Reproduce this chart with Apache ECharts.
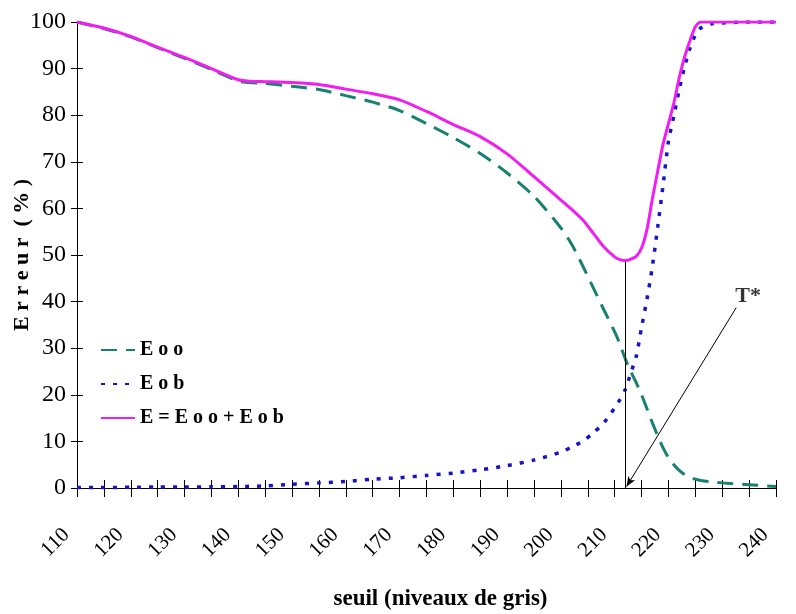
<!DOCTYPE html>
<html>
<head>
<meta charset="utf-8">
<script src="https://cdn.jsdelivr.net/npm/echarts@6/dist/echarts.min.js"></script>
<style>
  html, body { margin: 0; padding: 0; background: #ffffff; }
  #chart { width: 796px; height: 614px; }
</style>
</head>
<body>
<div id="chart"></div>
<script>
// Seuil (niveaux de gris)
const seuil = [110, 115, 120, 125, 130, 135, 140, 142, 145, 150, 155, 160, 165, 170, 175, 180, 185, 190, 195, 200,
  202, 204, 206, 208, 210, 211, 212, 213, 214, 215, 216, 217, 218, 219, 220, 221, 222, 223, 224, 225, 226, 228, 230, 235, 240];

// Erreur Eoo (%)
const eoo = [100, 98.6, 96.8, 94.5, 92.2, 89.8, 87.3, 87.0, 86.8, 86.2, 85.5, 84.2, 82.8, 81.0, 78.2, 75.2, 71.8, 67.6, 62.6, 55.8,
  52.3, 47.8, 43.0, 38.2, 33.5, 30.8, 27.6, 25.0, 22.6, 20.0, 17.0, 14.0, 11.2, 8.6, 6.5, 5.0, 3.8, 2.9, 2.3, 1.9, 1.6, 1.3, 1.1, 0.7, 0.3];

// Erreur Eob (%)
const eob = [0.1, 0.1, 0.15, 0.2, 0.2, 0.25, 0.3, 0.35, 0.45, 0.8, 1.1, 1.4, 1.9, 2.2, 2.7, 3.2, 3.9, 4.8, 6.0, 7.7,
  8.8, 10.0, 11.8, 14.0, 17.2, 19.0, 21.2, 24.7, 28.2, 34.5, 40.5, 47.5, 56.0, 65.0, 74.4, 79.8, 85.5, 90.4, 94.4, 97.2, 98.7, 99.6, 99.8, 100, 100];

// Erreur totale E = Eoo + Eob (%)
const eTotal = [100, 98.7, 96.9, 94.6, 92.4, 90.0, 87.6, 87.3, 87.2, 87.0, 86.6, 85.6, 84.6, 83.3, 80.8, 78.0, 75.4, 71.7, 66.8, 61.8,
  59.8, 57.6, 54.7, 51.7, 49.6, 49.0, 48.8, 49.1, 49.7, 51.5, 55.5, 62.0, 68.0, 73.8, 78.2, 82.6, 88.0, 92.5, 96.0, 99.0, 100, 100, 100, 100, 100];

const seriesNames = ['E o o', 'E o b', 'E = E o o + E o b'];

// Optimal threshold T*: the grey level where the total error is smallest
let best = 0;
for (let i = 1; i < eTotal.length; i++) if (eTotal[i] < eTotal[best]) best = i;
const tStar = seuil[best];
const eMin = eTotal[best];

// Start of the pointer line drawn from the "T*" caption (axis units)
const pointerFrom = [232.6, 38.7];

const serif = '"Liberation Serif", "Times New Roman", serif';
const pts = (ys) => seuil.map((x, i) => [x, ys[i]]);

const chart = echarts.init(document.getElementById('chart'), null, { renderer: 'canvas' });

const xBase = {
  type: 'value', min: 110, max: 240, interval: 5, gridIndex: 0, position: 'bottom',
  splitLine: { show: false }
};
const yBase = {
  type: 'value', min: 0, max: 100, interval: 10, gridIndex: 0, position: 'left',
  splitLine: { show: false }
};

chart.setOption({
  animation: false,
  backgroundColor: '#ffffff',
  grid: { left: 77, right: 20, top: 22, bottom: 126, containLabel: false, outerBoundsMode: 'none' },
  xAxis: [
    Object.assign({}, xBase, {
      axisLine: { show: true, onZero: false, lineStyle: { color: '#000', width: 1 } },
      axisTick: { show: true, inside: false, length: 9, lineStyle: { color: '#000', width: 1 } },
      axisLabel: {
        rotate: 45, margin: 33, padding: [0, 15, 0, 0],
        fontFamily: serif, fontSize: 21, color: '#000',
        formatter: (v) => (v % 10 === 0 ? String(v) : '')
      },
      name: 'seuil (niveaux de gris)', nameLocation: 'middle', nameGap: 100, nameMoveOverlap: false,
      nameTextStyle: { fontFamily: serif, fontSize: 23, fontWeight: 'bold', color: '#000', padding: [0, 0, 0, 28] }
    }),
    Object.assign({}, xBase, {
      axisLine: { show: false },
      axisTick: { show: true, inside: true, length: 8, lineStyle: { color: '#000', width: 1 } },
      axisLabel: { show: false }
    })
  ],
  yAxis: [
    Object.assign({}, yBase, {
      axisLine: { show: true, onZero: false, lineStyle: { color: '#000', width: 1 } },
      axisTick: { show: true, inside: false, length: 6, lineStyle: { color: '#000', width: 1 } },
      axisLabel: { margin: 11, fontFamily: serif, fontSize: 24, color: '#000' },
      name: 'E r r e u r  ( % )', nameLocation: 'middle', nameGap: 44, nameMoveOverlap: false,
      nameTextStyle: { fontFamily: serif, fontSize: 22, fontWeight: 'bold', color: '#000' }
    }),
    Object.assign({}, yBase, {
      axisLine: { show: false },
      axisTick: { show: true, inside: true, length: 6, lineStyle: { color: '#000', width: 1 } },
      axisLabel: { show: false }
    })
  ],
  legend: {
    data: seriesNames,
    orient: 'vertical', left: 95, top: 335, itemGap: 14,
    itemWidth: 34, itemHeight: 14,
    itemStyle: { opacity: 0 },
    textStyle: { fontFamily: serif, fontSize: 20, fontWeight: 'bold', color: '#000' }
  },
  series: [
    {
      name: seriesNames[0], type: 'line', data: pts(eoo), xAxisIndex: 0, yAxisIndex: 0,
      showSymbol: false, symbol: 'none', smooth: 0.25, z: 3,
      itemStyle: { color: '#17806f' },
      lineStyle: { color: '#17806f', width: 3, type: [16, 9] }
    },
    {
      name: seriesNames[1], type: 'line', data: pts(eob), xAxisIndex: 0, yAxisIndex: 0,
      showSymbol: false, symbol: 'none', smooth: 0.25, z: 4,
      itemStyle: { color: '#1414c8' },
      lineStyle: { color: '#1414c8', width: 3.5, type: [4, 8] }
    },
    {
      name: seriesNames[2], type: 'line', data: pts(eTotal), xAxisIndex: 0, yAxisIndex: 0,
      showSymbol: false, symbol: 'none', smooth: 0.25, z: 5,
      itemStyle: { color: '#f01ef0' },
      lineStyle: { color: '#f01ef0', width: 3 },
      markLine: {
        silent: true, animation: false,
        label: { show: false },
        lineStyle: { color: '#000', width: 1, type: 'solid' },
        data: [
          [
            { coord: [tStar, eMin], symbol: 'none' },
            { coord: [tStar, 0], symbol: 'none' }
          ],
          [
            { coord: pointerFrom, symbol: 'none' },
            { coord: [tStar + 0.2, 0.3], symbol: 'arrow', symbolSize: [6, 10] }
          ]
        ]
      }
    },
    {
      name: 'T*', type: 'scatter', xAxisIndex: 0, yAxisIndex: 0,
      data: [[pointerFrom[0] + 2.2, pointerFrom[1] + 2.4]],
      symbolSize: 0, silent: true, z: 6,
      label: {
        show: true, position: 'inside', formatter: 'T*',
        fontFamily: serif, fontSize: 22, fontWeight: 'bold', color: '#000'
      }
    }
  ]
});
</script>
</body>
</html>
